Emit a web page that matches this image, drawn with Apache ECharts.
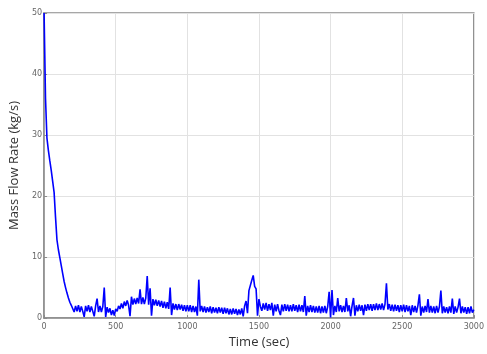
<!DOCTYPE html>
<html>
<head>
<meta charset="utf-8">
<script src="https://cdn.jsdelivr.net/npm/echarts@6/dist/echarts.min.js"></script>
<style>html,body{margin:0;padding:0;background:#fff}#c{width:487px;height:354px}</style>
</head>
<body>
<div id="c"></div>
<script>
// time step of the sampled record (sec)
const timeStep = 10;
// mass flow rate (kg/s) sampled every 10 s from t = 0 to 3000 s
const flowRate = [
50, 36, 29.5, 27.5, 25.8, 24.2, 22.4, 20.6, 16.5, 12.8,
11.2, 9.9, 8.6, 7.3, 6.0, 5.0, 4.1, 3.3, 2.6, 2.1,
1.9, 1.0, 2.0, 1.1, 2.1, 1.0, 1.9, 1.1, 0.2, 2.0,
1.1, 2.1, 1.0, 1.9, 1.1, 0.3, 2.0, 3.2, 1.0, 2.0,
1.0, 1.9, 5.0, 0.2, 1.8, 0.9, 1.6, 0.5, 1.3, 0.4,
1.5, 1.1, 2.0, 1.5, 2.4, 1.6, 2.7, 2.0, 2.9, 2.1,
0.3, 3.5, 2.2, 3.2, 2.3, 3.3, 2.4, 4.7, 2.3, 3.4,
2.3, 3.3, 6.9, 2.2, 4.9, 0.4, 3.1, 2.1, 3.0, 2.0,
2.9, 1.9, 2.8, 1.7, 2.7, 1.6, 2.6, 1.5, 5.0, 0.5,
2.4, 1.4, 2.3, 1.3, 2.3, 1.4, 2.2, 1.2, 2.1, 1.1,
2.1, 1.1, 2.1, 1.0, 2.0, 1.0, 1.9, 0.4, 6.3, 1.1,
2.0, 1.0, 1.9, 0.9, 1.8, 1.0, 1.9, 0.8, 1.8, 0.9,
1.7, 0.8, 1.8, 0.9, 1.7, 0.7, 1.7, 0.8, 1.6, 0.6,
1.5, 0.6, 1.6, 0.7, 1.5, 0.5, 1.4, 0.6, 1.6, 0.3,
2.0, 2.8, 0.8, 4.5, 4.6, 6.2, 7.0, 5.2, 4.8, 0.4,
3.1, 1.9, 1.2, 2.4, 1.4, 2.5, 1.2, 2.3, 1.3, 2.5,
0.4, 2.2, 1.1, 2.3, 1.2, 0.5, 2.2, 1.1, 2.3, 1.2,
2.2, 1.1, 2.1, 1.1, 2.3, 1.2, 2.1, 1.0, 2.2, 1.1,
2.1, 1.0, 3.6, 0.4, 2.0, 1.0, 2.1, 1.0, 2.0, 0.9,
1.9, 0.9, 2.0, 0.8, 1.9, 0.9, 2.0, 0.8, 1.9, 4.3,
0.1, 4.6, 0.5, 2.0, 1.0, 3.3, 1.1, 2.1, 1.0, 2.0,
1.0, 3.3, 1.1, 2.1, 0.3, 2.0, 3.3, 0.4, 2.1, 1.1,
2.2, 1.2, 2.1, 0.5, 2.2, 1.2, 2.3, 1.3, 2.3, 1.2,
2.3, 1.3, 2.4, 1.3, 2.3, 1.4, 2.4, 1.3, 2.3, 5.7,
1.4, 2.3, 1.2, 2.2, 1.1, 2.2, 1.2, 2.1, 1.0, 2.1,
1.1, 2.2, 1.0, 2.1, 1.1, 2.0, 0.5, 2.1, 1.0, 2.0,
0.9, 2.1, 3.9, 0.4, 1.9, 0.9, 2.0, 1.0, 3.1, 0.9,
2.0, 0.9, 1.9, 0.8, 2.0, 0.9, 1.9, 4.5, 0.8, 1.9,
0.9, 1.8, 0.8, 1.9, 0.9, 3.2, 0.7, 1.9, 0.9, 1.8,
3.2, 0.8, 1.9, 0.9, 1.8, 0.7, 1.8, 0.8, 1.9, 0.9,
1.4
];
const xTicks = [0, 500, 1000, 1500, 2000, 2500, 3000];
const yTicks = [0, 10, 20, 30, 40, 50];

const seriesData = flowRate.map((v, i) => [i * timeStep, v]);

const chart = echarts.init(document.getElementById('c'), null, {renderer: 'canvas'});
const tickFont = {fontFamily: 'DejaVu Sans', fontSize: 8, color: '#666', formatter: v => String(v)};
chart.setOption({
  animation: false,
  backgroundColor: '#fff',
  grid: {left: 40, right: 12, top: 13, bottom: 30, show: true, borderColor: '#8a8a8a', borderWidth: 1.5, backgroundColor: 'transparent'},
  xAxis: {
    type: 'value', min: xTicks[0], max: xTicks[xTicks.length - 1], interval: 500,
    name: 'Time (sec)', nameLocation: 'middle', nameGap: 13,
    nameTextStyle: {fontFamily: 'Open Sans', fontSize: 13, color: '#333'},
    axisLine: {show: true, lineStyle: {color: '#8a8a8a', width: 1.5}},
    axisTick: {show: true, inside: true, length: 3, lineStyle: {color: '#8a8a8a'}},
    axisLabel: Object.assign({margin: 5}, tickFont),
    splitLine: {show: true, lineStyle: {color: '#e2e2e2', width: 1}}
  },
  yAxis: {
    type: 'value', min: yTicks[0], max: yTicks[yTicks.length - 1], interval: 10,
    name: 'Mass Flow Rate (kg/s)', nameLocation: 'middle', nameGap: 16, nameRotate: 90,
    nameTextStyle: {fontFamily: 'Open Sans', fontSize: 13, color: '#333'},
    axisLine: {show: true, lineStyle: {color: '#8a8a8a', width: 1.5}},
    axisTick: {show: true, inside: true, length: 3, lineStyle: {color: '#8a8a8a'}},
    axisLabel: Object.assign({margin: 2}, tickFont),
    splitLine: {show: true, lineStyle: {color: '#e2e2e2', width: 1}}
  },
  series: [{
    type: 'line', data: seriesData, showSymbol: false, symbol: 'none',
    lineStyle: {color: '#0000ff', width: 1.6}, itemStyle: {color: '#0000ff'},
    sampling: null, clip: true
  }]
});
</script>
</body>
</html>
